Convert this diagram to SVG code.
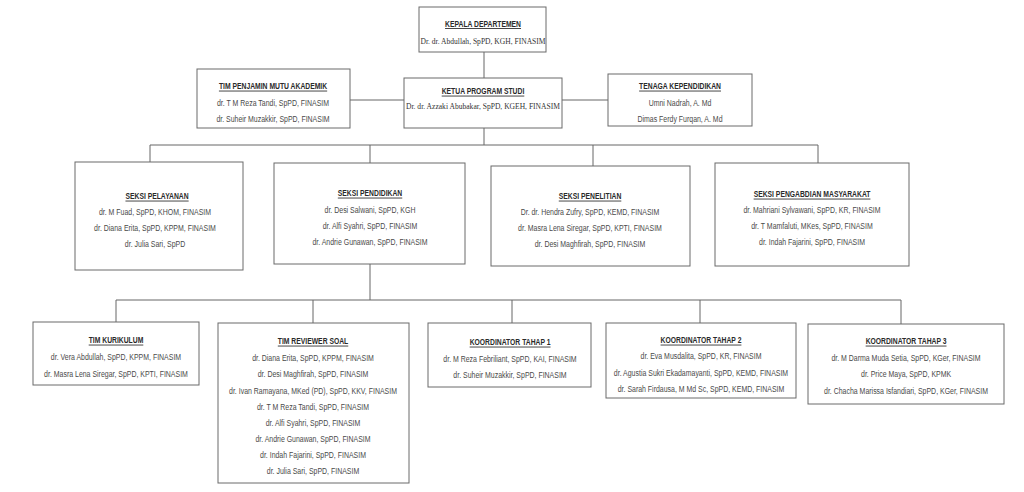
<svg xmlns="http://www.w3.org/2000/svg" width="1024" height="492" viewBox="0 0 1024 492">
<style>
.box{fill:#fff;stroke:#6a6a6a;stroke-width:1}
.t{font-family:"Liberation Sans",Arial,sans-serif;font-size:8.6px;fill:#4a4a4a;text-anchor:middle;transform-box:fill-box;transform-origin:center;transform:scaleX(0.81)}
.h{font-weight:bold;text-decoration:underline;fill:#2a2a2a;transform:scaleX(0.79)}
.s{font-family:"Liberation Serif",serif;font-size:7.8px;fill:#333;text-anchor:middle;transform-box:fill-box;transform-origin:center;transform:scaleX(0.97)}
.c{fill:none;stroke:#666;stroke-width:1}
</style>
<rect width="1024" height="492" fill="#fff"/>
<g id="connectors">
<path class="c" d="M484 52V78M484 128V145M150 145H818M150 145V162M370 145V163M593 145V166M818 145V163M370 264V300M116 300H901M116 300V322M313 300V323M512 300V323M700 300V323M901 300V324M350 100H404M562 100H608"/>
</g>
<g id="kepala">
<rect class="box" x="419" y="7" width="127" height="45"/>
<text class="t h" x="483" y="27">KEPALA DEPARTEMEN</text>
<text class="s" x="483" y="44">Dr. dr. Abdullah, SpPD, KGH, FINASIM</text>
</g>
<g id="tim-penjamin">
<rect class="box" x="197" y="69" width="153" height="59"/>
<text class="t h" x="273" y="89.5">TIM PENJAMIN MUTU AKADEMIK</text>
<text class="t" x="273" y="106.5">dr. T M Reza Tandi, SpPD, FINASIM</text>
<text class="t" x="273" y="122.5">dr. Suheir Muzakkir, SpPD, FINASIM</text>
</g>
<g id="ketua">
<rect class="box" x="404" y="78" width="158" height="50"/>
<text class="t h" x="483" y="94.5">KETUA PROGRAM STUDI</text>
<text class="s" x="483" y="109.5">Dr. dr. Azzaki Abubakar, SpPD, KGEH, FINASIM</text>
</g>
<g id="tenaga">
<rect class="box" x="608" y="74" width="144" height="52"/>
<text class="t h" x="680" y="89.5">TENAGA KEPENDIDIKAN</text>
<text class="t" x="680" y="106.5">Umni Nadrah, A. Md</text>
<text class="t" x="680" y="122.5">Dimas Ferdy Furqan, A. Md</text>
</g>
<g id="seksi-pelayanan">
<rect class="box" x="75" y="162" width="168" height="108"/>
<text class="t h" x="157" y="199.5">SEKSI PELAYANAN</text>
<text class="t" x="155" y="215.5">dr. M Fuad, SpPD, KHOM, FINASIM</text>
<text class="t" x="155" y="231.5">dr. Diana Erita, SpPD, KPPM, FINASIM</text>
<text class="t" x="155" y="247.5">dr. Julia Sari, SpPD</text>
</g>
<g id="seksi-pendidikan">
<rect class="box" x="274" y="163" width="191" height="101"/>
<text class="t h" x="370" y="196.5">SEKSI PENDIDIKAN</text>
<text class="t" x="370" y="213.5">dr. Desi Salwani, SpPD, KGH</text>
<text class="t" x="370" y="229.5">dr. Alfi Syahri, SpPD, FINASIM</text>
<text class="t" x="370" y="245.5">dr. Andrie Gunawan, SpPD, FINASIM</text>
</g>
<g id="seksi-penelitian">
<rect class="box" x="491" y="166" width="199" height="100"/>
<text class="t h" x="590" y="199.5">SEKSI PENELITIAN</text>
<text class="t" x="590" y="215.5">Dr. dr. Hendra Zufry, SpPD, KEMD, FINASIM</text>
<text class="t" x="590" y="231.5">dr. Masra Lena Siregar, SpPD, KPTI, FINASIM</text>
<text class="t" x="590" y="247.5">dr. Desi Maghfirah, SpPD, FINASIM</text>
</g>
<g id="seksi-pengabdian">
<rect class="box" x="715" y="163" width="194" height="103"/>
<text class="t h" x="812" y="197.5">SEKSI PENGABDIAN MASYARAKAT</text>
<text class="t" x="812" y="213.5">dr. Mahriani Sylvawani, SpPD, KR, FINASIM</text>
<text class="t" x="812" y="229.5">dr. T Mamfaluti, MKes, SpPD, FINASIM</text>
<text class="t" x="812" y="245.5">dr. Indah Fajarini, SpPD, FINASIM</text>
</g>
<g id="tim-kurikulum">
<rect class="box" x="33" y="322" width="166" height="63"/>
<text class="t h" x="116" y="343.5">TIM KURIKULUM</text>
<text class="t" x="116" y="360.5">dr. Vera Abdullah, SpPD, KPPM, FINASIM</text>
<text class="t" x="116" y="377">dr. Masra Lena Siregar, SpPD, KPTI, FINASIM</text>
</g>
<g id="tim-reviewer">
<rect class="box" x="218" y="323" width="191" height="160"/>
<text class="t h" x="313" y="344.5">TIM REVIEWER SOAL</text>
<text class="t" x="313" y="361.5">dr. Diana Erita, SpPD, KPPM, FINASIM</text>
<text class="t" x="313" y="377.5">dr. Desi Maghfirah, SpPD, FINASIM</text>
<text class="t" x="313" y="394">dr. Ivan Ramayana, MKed (PD), SpPD, KKV, FINASIM</text>
<text class="t" x="313" y="410">dr. T M Reza Tandi, SpPD, FINASIM</text>
<text class="t" x="313" y="426">dr. Alfi Syahri, SpPD, FINASIM</text>
<text class="t" x="313" y="442">dr. Andrie Gunawan, SpPD, FINASIM</text>
<text class="t" x="313" y="458">dr. Indah Fajarini, SpPD, FINASIM</text>
<text class="t" x="313" y="474">dr. Julia Sari, SpPD, FINASIM</text>
</g>
<g id="koordinator-1">
<rect class="box" x="428" y="323" width="163" height="64"/>
<text class="t h" x="510" y="345.5">KOORDINATOR TAHAP 1</text>
<text class="t" x="510" y="362">dr. M Reza Febriliant, SpPD, KAI, FINASIM</text>
<text class="t" x="510" y="378.5">dr. Suheir Muzakkir, SpPD, FINASIM</text>
</g>
<g id="koordinator-2">
<rect class="box" x="606" y="323" width="190" height="75"/>
<text class="t h" x="701" y="343.5">KOORDINATOR TAHAP 2</text>
<text class="t" x="701" y="359.5">dr. Eva Musdalita, SpPD, KR, FINASIM</text>
<text class="t" x="701" y="376">dr. Agustia Sukri Ekadamayanti, SpPD, KEMD, FINASIM</text>
<text class="t" x="701" y="392">dr. Sarah Firdausa, M Md Sc, SpPD, KEMD, FINASIM</text>
</g>
<g id="koordinator-3">
<rect class="box" x="808" y="324" width="196" height="80"/>
<text class="t h" x="906" y="344.5">KOORDINATOR TAHAP 3</text>
<text class="t" x="906" y="361">dr. M Darma Muda Setia, SpPD, KGer, FINASIM</text>
<text class="t" x="906" y="377.5">dr. Price Maya, SpPD, KPMK</text>
<text class="t" x="906" y="394">dr. Chacha Marissa Isfandiari, SpPD, KGer, FINASIM</text>
</g>
</svg>
